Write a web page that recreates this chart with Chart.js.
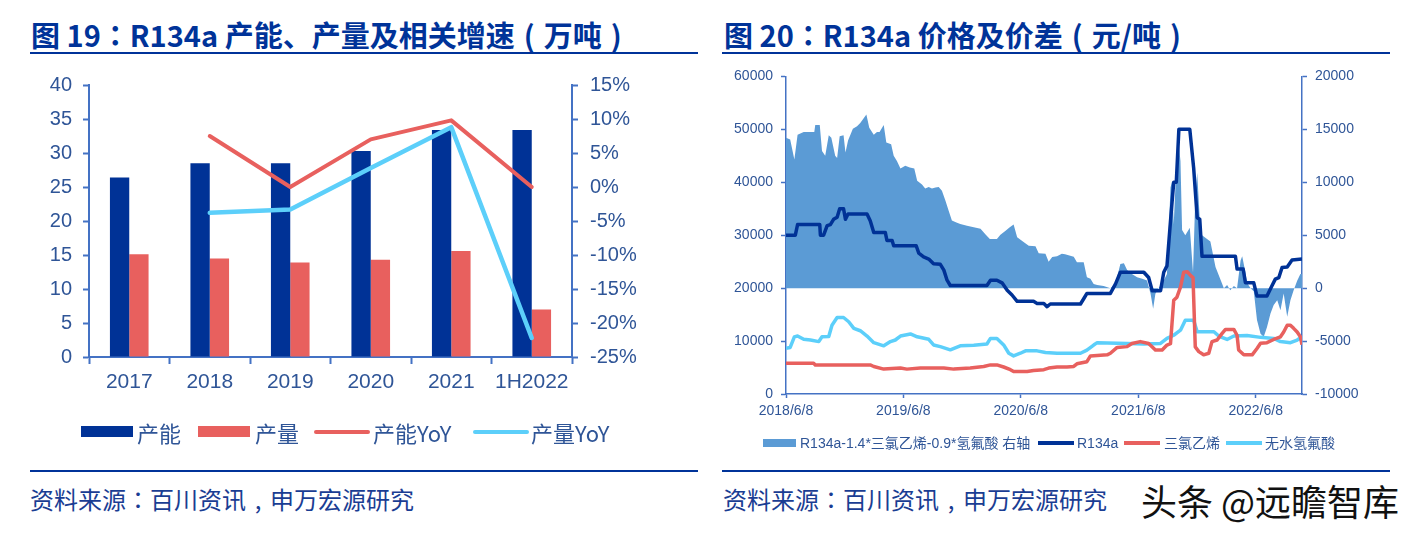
<!DOCTYPE html>
<html>
<head>
<meta charset="utf-8">
<script src="https://cdn.jsdelivr.net/npm/chart.js@4.4.0/dist/chart.umd.min.js"></script>
<style>
  html, body { margin: 0; padding: 0; background: #fff; }
  body { width: 1419px; height: 536px; position: relative; overflow: hidden;
         font-family: "Noto Sans CJK SC", "Liberation Sans", sans-serif; }
  .abs { position: absolute; white-space: nowrap; }
  .tc { font-family: "Noto Sans CJK TC", sans-serif; }
  .pc { display: inline-block; width: 1em; text-align: center; }
  .title { font-size: 29px; font-weight: bold; color: #003399; line-height: 34px; top: 17px; }
  .rule { height: 2px; background: #003399; }
  .src { font-size: 24px; color: #1a3d93; line-height: 30px; top: 484px; }
  .lg1 { font-size: 22px; color: #2f5597; line-height: 26px; top: 419px; }
  .lg2 { font-size: 14px; color: #2f5597; line-height: 18px; top: 434px; font-family: "Liberation Sans", "Noto Sans CJK SC", sans-serif; }
  canvas { position: absolute; }
</style>
</head>
<body>

<div class="abs title" style="left:31px">图 19<span class="tc">：</span>R134a 产能、产量及相关增速<span class="pc">(</span>万吨<span class="pc">)</span></div>
<div class="abs title" style="left:724px">图 20<span class="tc">：</span>R134a 价格及价差<span class="pc">(</span>元/吨<span class="pc">)</span></div>
<div class="abs rule" style="left:30px; top:52px; width:668px"></div>
<div class="abs rule" style="left:722px; top:52px; width:668px"></div>

<canvas id="capChart" width="700" height="339" style="left:0px; top:61px"></canvas>
<canvas id="priceChart" width="709" height="370" style="left:710px; top:60px"></canvas>

<!-- left legend -->
<div class="abs" style="left:81px; top:426px; width:52px; height:11px; background:#003296"></div>
<div class="abs lg1" style="left:137px">产能</div>
<div class="abs" style="left:198px; top:426px; width:52px; height:11px; background:#e8605e"></div>
<div class="abs lg1" style="left:255px">产量</div>
<div class="abs" style="left:314px; top:430px; width:56px; height:4px; border-radius:2px; background:#e8605e"></div>
<div class="abs lg1" style="left:373px">产能YoY</div>
<div class="abs" style="left:473px; top:430px; width:56px; height:4px; border-radius:2px; background:#5ccffa"></div>
<div class="abs lg1" style="left:531px">产量YoY</div>

<!-- right legend -->
<div class="abs" style="left:763px; top:439px; width:33px; height:8px; background:#5b9bd5"></div>
<div class="abs lg2" style="left:800px">R134a-1.4*三氯乙烯-0.9*氢氟酸 右轴</div>
<div class="abs" style="left:1038px; top:441px; width:36px; height:4px; background:#003296"></div>
<div class="abs lg2" style="left:1077px">R134a</div>
<div class="abs" style="left:1124px; top:441px; width:36px; height:4px; background:#e8605e"></div>
<div class="abs lg2" style="left:1164px">三氯乙烯</div>
<div class="abs" style="left:1226px; top:441px; width:36px; height:4px; background:#5ccffa"></div>
<div class="abs lg2" style="left:1265px">无水氢氟酸</div>

<div class="abs rule" style="left:30px; top:470px; width:668px"></div>
<div class="abs rule" style="left:722px; top:470px; width:668px"></div>
<div class="abs src" style="left:30px">资料来源<span class="tc">：</span>百川资讯<span class="pc">,</span>申万宏源研究</div>
<div class="abs src" style="left:723px">资料来源<span class="tc">：</span>百川资讯<span class="pc">,</span>申万宏源研究</div>
<div class="abs" style="left:1141px; top:477px; font-size:36px; line-height:46px; color:#111">头条 @远瞻智库</div>

<script>
// ---- figure 19 data (万吨, %)
const categories = ['2017', '2018', '2019', '2020', '2021', '1H2022'];
const capacity = [26.4, 28.5, 28.5, 30.3, 33.4, 33.4];
const output = [15.1, 14.5, 13.9, 14.3, 15.6, 7.0];
const capacityYoY = [null, 7.5, 0, 7.0, 9.8, 0];
const outputYoY = [null, -3.8, -3.3, 2.8, 8.8, -22.2];

// ---- figure 20 data (days since 2018/6/8, 元/吨)
const xTickDays = [0, 365, 730, 1096, 1461];
const xTickLabels = ['2018/6/8', '2019/6/8', '2020/6/8', '2021/6/8', '2022/6/8'];

const r134aDays = [0, 29, 36, 105, 107, 117, 128, 138, 148, 159, 167, 179, 185, 193, 252, 262, 273, 309, 314, 330,
  335, 405, 413, 428, 444, 459, 480, 491, 501, 511, 625, 636, 656, 672, 688, 703, 719, 770, 781, 802,
  812, 822, 916, 926, 936, 1009, 1025, 1040, 1113, 1128, 1139, 1165, 1175, 1185, 1196, 1206, 1214, 1222, 1256, 1268,
  1279, 1287, 1294, 1398, 1403, 1422, 1429, 1455, 1465, 1496, 1512, 1522, 1533, 1543, 1559, 1574, 1605];
const r134aPrice = [30000, 30000, 32000, 32000, 30000, 30000, 31800, 32000, 33000, 33400, 35000, 35000, 33000, 34000, 34000, 32750, 30500, 30500, 29000, 29000,
  28000, 28000, 26600, 25900, 25500, 24600, 24500, 23400, 21500, 20500, 20500, 21500, 21500, 21000, 19600, 18700, 17500, 17500, 17100, 17100,
  16500, 17000, 17000, 18000, 19000, 19000, 20800, 23000, 23000, 22000, 19500, 19500, 23000, 24200, 32700, 40000, 40000, 50000, 50000, 42700,
  33300, 33000, 26000, 26000, 23600, 23600, 21000, 21000, 18500, 18500, 20500, 21700, 22000, 23900, 24000, 25300, 25500];

const tceDays = [0, 86, 91, 262, 273, 304, 356, 376, 418, 491, 522, 573, 615, 636, 656, 677, 698, 708, 750, 770,
  802, 817, 843, 874, 895, 905, 936, 947, 999, 1009, 1030, 1061, 1076, 1102, 1128, 1149, 1170, 1185, 1196, 1206,
  1216, 1227, 1237, 1248, 1258, 1266, 1273, 1284, 1299, 1315, 1325, 1341, 1356, 1367, 1393, 1403, 1408, 1424, 1450, 1465,
  1476, 1496, 1517, 1538, 1548, 1559, 1569, 1579, 1590, 1600, 1605];
const tcePrice = [5800, 5800, 5500, 5500, 5200, 4700, 4900, 4700, 4900, 4900, 4700, 4900, 5200, 5500, 5500, 5100, 4600, 4250, 4250, 4450,
  4600, 4900, 5100, 5100, 5200, 5700, 6100, 7200, 7400, 7700, 8800, 8950, 9550, 9900, 9550, 8300, 8300, 9250, 9500, 17700,
  18300, 20200, 23000, 23100, 22400, 22000, 8900, 8000, 7400, 7700, 9900, 10200, 11400, 12200, 12200, 11100, 8300, 7400, 7400, 8600,
  9600, 9700, 10300, 10800, 11700, 13000, 13000, 12400, 11700, 10800, 9300];

const hfDays = [0, 13, 26, 36, 55, 76, 102, 112, 133, 143, 159, 179, 195, 211, 231, 252, 273, 304, 325, 340,
  356, 387, 408, 444, 459, 480, 511, 542, 584, 625, 636, 656, 677, 693, 708, 729, 745, 781, 807, 843,
  884, 916, 936, 957, 968, 1061, 1113, 1165, 1185, 1206, 1227, 1242, 1268, 1279, 1331, 1346, 1372, 1393, 1434, 1476,
  1517, 1538, 1569, 1590, 1605];
const hfPrice = [8640, 8800, 10800, 10950, 10330, 10200, 9900, 10800, 10850, 13000, 14450, 14450, 13650, 12400, 11950, 10950, 9700, 9100, 9900, 10200,
  10950, 11350, 10800, 10330, 9270, 8950, 8350, 9100, 9200, 9450, 10500, 10500, 9270, 7700, 7200, 7700, 8150, 8150, 7850, 7700,
  7700, 7690, 8300, 9250, 9700, 9550, 9450, 9560, 10500, 11100, 12050, 13950, 13950, 11750, 11750, 10950, 10300, 10950, 11050, 10700,
  10500, 9900, 9700, 10200, 10800];

const spreadDays = [0, 13, 26, 36, 55, 88, 91, 105, 112, 122, 133, 141, 153, 159, 167, 179, 185, 193, 208, 221,
  231, 250, 259, 273, 283, 291, 304, 312, 327, 335, 345, 356, 371, 385, 399, 408, 423, 433, 444, 454,
  465, 475, 485, 496, 506, 516, 530, 542, 563, 584, 605, 620, 634, 656, 667, 682, 696, 708, 719, 739,
  755, 776, 786, 807, 817, 828, 843, 858, 868, 895, 905, 926, 936, 947, 957, 968, 988, 1009, 1025, 1040,
  1051, 1061, 1076, 1092, 1108, 1123, 1134, 1142, 1149, 1159, 1175, 1185, 1196, 1201, 1206, 1214, 1222, 1227, 1232, 1242,
  1256, 1266, 1273, 1279, 1287, 1294, 1320, 1336, 1362, 1372, 1382, 1393, 1403, 1414, 1419, 1429, 1434, 1445, 1455, 1465,
  1476, 1486, 1496, 1507, 1517, 1528, 1538, 1548, 1559, 1569, 1579, 1590, 1600, 1605];
const spread = [14200, 14050, 12150, 14500, 14750, 14750, 15400, 15400, 12950, 12500, 14450, 14200, 12500, 12300, 14350, 14450, 12800, 13950, 15050, 15300,
  15600, 16400, 15150, 14500, 14750, 14750, 15400, 13750, 13600, 12500, 12000, 11300, 11550, 11400, 11300, 10150, 9800, 9400, 9550, 9400,
  9500, 9550, 9200, 8250, 7300, 6400, 6200, 6050, 5900, 5750, 5600, 5100, 4650, 4650, 5050, 5400, 5750, 6000, 4800, 4350,
  4000, 3950, 3300, 3250, 2500, 2950, 3000, 3250, 3200, 2970, 2440, 2440, 1030, 875, 400, 300, 190, 0, 470, 2280,
  2340, 1720, 1340, 1030, 875, 720, -530, -1940, -530, 0, 720, 1340, 9500, 10100, 6000, 11500, 13500, 12000, 5500, 5000,
  5700, 1500, 8500, 10900, 6500, 5000, 4400, 2000, 0, 300, -200, 200, 0, 2600, 3000, 1500, 500, 0, -300, -3000,
  -4300, -4600, -3700, -2400, -1600, -1150, -2100, -500, -2700, -1150, -200, 700, 1340, 1340];

const NAVY = '#003296', RED = '#e8605e', CYAN = '#5ccffa', AREA = '#5b9bd5';
const AXIS = '#4472c4', LABEL = '#2f5597';

Chart.defaults.font.family = '"Liberation Sans", "Noto Sans CJK SC", sans-serif';

function toPoints(xs, ys) {
  return xs.map((x, i) => ({ x: x, y: ys[i] }));
}

// figure 19
new Chart(document.getElementById('capChart'), {
  type: 'bar',
  data: {
    labels: categories,
    datasets: [
      { type: 'line', label: '产能YoY', data: capacityYoY, yAxisID: 'y1', borderColor: RED, borderWidth: 4,
        pointRadius: 0, fill: false, borderCapStyle: 'round', borderJoinStyle: 'round' },
      { type: 'line', label: '产量YoY', data: outputYoY, yAxisID: 'y1', borderColor: CYAN, borderWidth: 4.5,
        pointRadius: 0, fill: false, borderCapStyle: 'round', borderJoinStyle: 'round' },
      { label: '产能', data: capacity, backgroundColor: NAVY, yAxisID: 'y' },
      { label: '产量', data: output, backgroundColor: RED, yAxisID: 'y' }
    ]
  },
  options: {
    responsive: false,
    animation: false,
    devicePixelRatio: 1,
    layout: { padding: { top: 14, left: 0, right: 0, bottom: 0 } },
    datasets: { bar: { categoryPercentage: 0.48, barPercentage: 1 } },
    plugins: { legend: { display: false }, tooltip: { enabled: false } },
    scales: {
      x: {
        grid: { drawOnChartArea: false, tickLength: 7, tickColor: AXIS, tickWidth: 2, offset: true },
        border: { color: AXIS, width: 2 },
        ticks: { color: LABEL, font: { size: 21 }, padding: 6, maxRotation: 0, autoSkip: false },
        afterFit: s => { s.height = 43; }
      },
      y: {
        position: 'left', min: 0, max: 40,
        grid: { drawOnChartArea: false, tickLength: 6, tickColor: AXIS, tickWidth: 2 },
        border: { color: AXIS, width: 2 },
        ticks: { stepSize: 5, color: LABEL, font: { size: 20 }, padding: 11 },
        afterFit: s => { s.width = 89; }
      },
      y1: {
        position: 'right', min: -25, max: 15,
        grid: { drawOnChartArea: false, tickLength: 6, tickColor: AXIS, tickWidth: 2 },
        border: { color: AXIS, width: 2 },
        ticks: { stepSize: 5, color: LABEL, font: { size: 20 }, padding: 12, callback: v => v + '%' },
        afterFit: s => { s.width = 128; }
      }
    }
  }
});

// figure 20
const lineStyle = { pointRadius: 0, fill: false, borderJoinStyle: 'round', tension: 0 };
new Chart(document.getElementById('priceChart'), {
  type: 'line',
  data: {
    datasets: [
      Object.assign({ label: 'R134a', data: toPoints(r134aDays, r134aPrice), yAxisID: 'y',
        borderColor: NAVY, borderWidth: 3.5 }, lineStyle),
      Object.assign({ label: '三氯乙烯', data: toPoints(tceDays, tcePrice), yAxisID: 'y',
        borderColor: RED, borderWidth: 3.5 }, lineStyle),
      Object.assign({ label: '无水氢氟酸', data: toPoints(hfDays, hfPrice), yAxisID: 'y',
        borderColor: CYAN, borderWidth: 3.5 }, lineStyle),
      { label: 'R134a-1.4*三氯乙烯-0.9*氢氟酸 右轴', data: toPoints(spreadDays, spread), yAxisID: 'y1',
        borderWidth: 0, borderColor: AREA, backgroundColor: AREA, fill: 'origin', pointRadius: 0, tension: 0 }
    ]
  },
  options: {
    responsive: false,
    animation: false,
    devicePixelRatio: 1,
    layout: { padding: { top: 14, left: 0, right: 0, bottom: 0 } },
    plugins: { legend: { display: false }, tooltip: { enabled: false } },
    scales: {
      x: {
        type: 'linear', min: 0, max: 1605,
        afterBuildTicks: s => { s.ticks = xTickDays.map(v => ({ value: v })); },
        grid: { drawOnChartArea: false, tickLength: 4, tickColor: AXIS, tickWidth: 1.5 },
        border: { color: AXIS, width: 1.5 },
        ticks: { color: LABEL, font: { size: 14 }, padding: 5, maxRotation: 0, autoSkip: false,
                 callback: v => xTickLabels[xTickDays.indexOf(v)] },
        afterFit: s => { s.height = 36; }
      },
      y: {
        position: 'left', min: 0, max: 60000,
        grid: { drawOnChartArea: false, tickLength: 5, tickColor: AXIS, tickWidth: 1.5 },
        border: { color: AXIS, width: 1.5 },
        ticks: { stepSize: 10000, color: LABEL, font: { size: 14 }, padding: 8, callback: v => String(v) },
        afterFit: s => { s.width = 76; }
      },
      y1: {
        position: 'right', min: -10000, max: 20000,
        grid: { drawOnChartArea: false, tickLength: 5, tickColor: AXIS, tickWidth: 1.5 },
        border: { color: AXIS, width: 1.5 },
        ticks: { stepSize: 5000, color: LABEL, font: { size: 14 }, padding: 8, callback: v => String(v) },
        afterFit: s => { s.width = 117; }
      }
    }
  }
});
</script>
</body>
</html>
